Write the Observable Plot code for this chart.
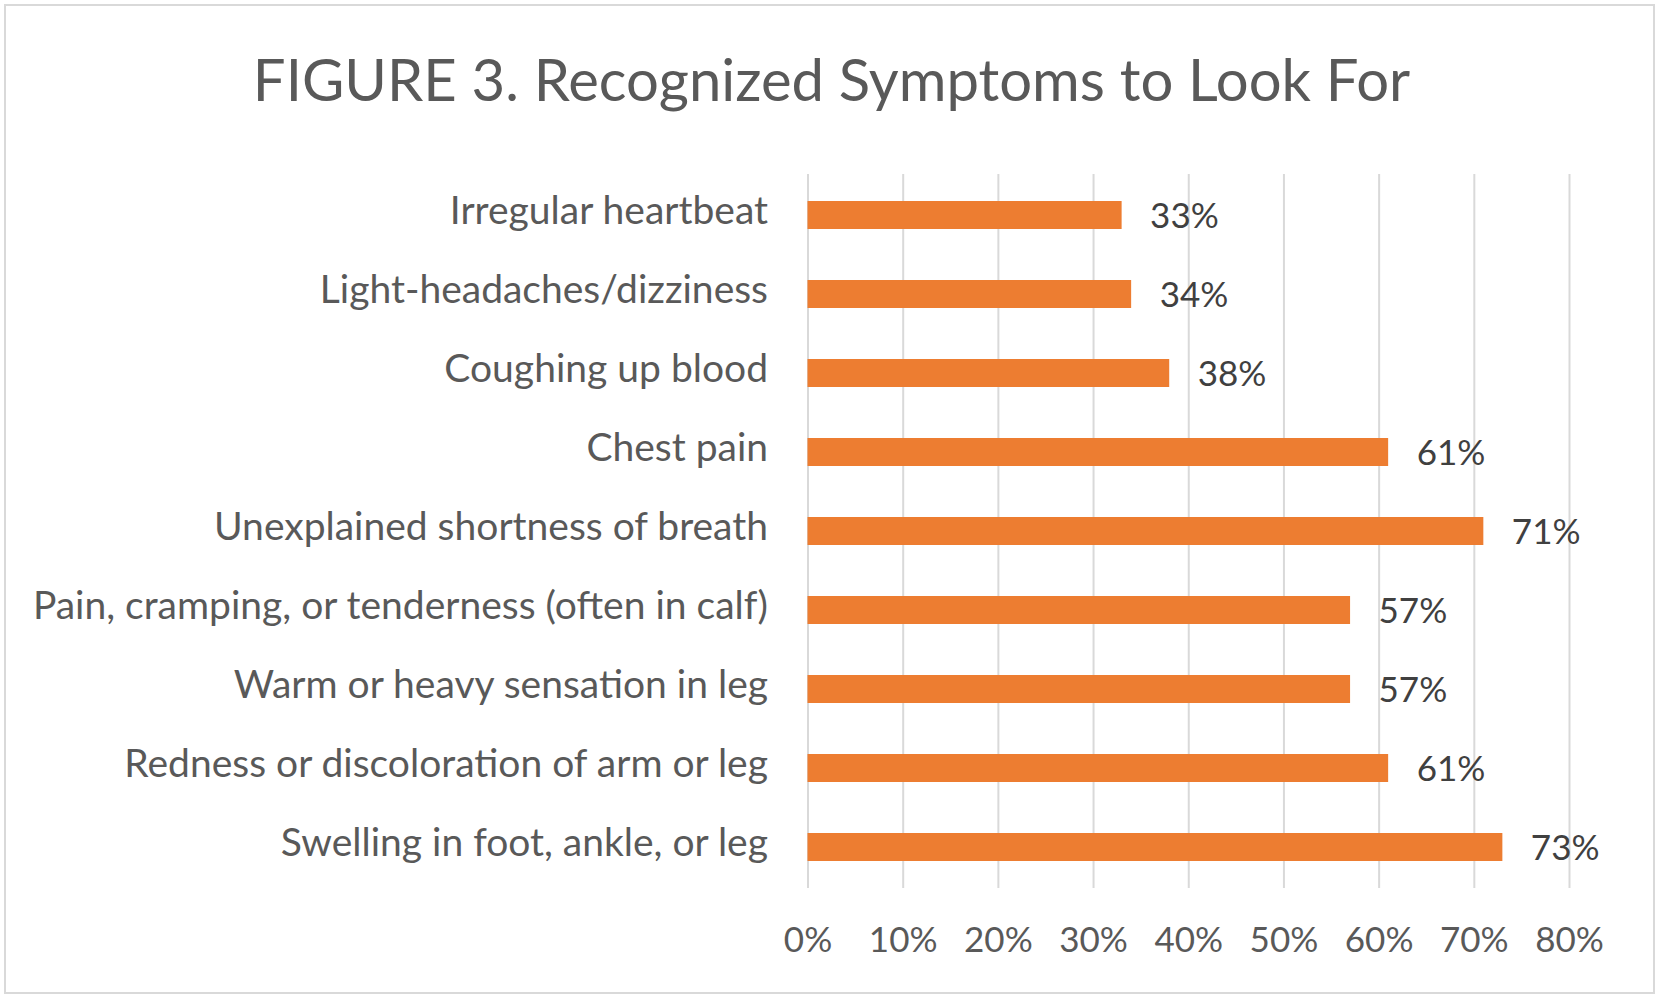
<!DOCTYPE html>
<html>
<head>
<meta charset="utf-8">
<script src="https://cdn.jsdelivr.net/npm/d3@7"></script>
<script src="https://cdn.jsdelivr.net/npm/@observablehq/plot@0.6"></script>
<style>
  html, body { margin: 0; padding: 0; background: #fff; }
  #wrap { position: relative; width: 1663px; height: 1003px; overflow: hidden; }
  #frame { position: absolute; left: 4px; top: 4px; width: 1651px; height: 990px;
           border: 2px solid #d9d9d9; box-sizing: border-box; }
  #title { position: absolute; left: 0; width: 1663px; top: 44px; text-align: center;
           font-family: Lato, sans-serif; font-size: 58px; line-height: 70px; color: #595959; }
  #chart { position: absolute; left: 0; top: 150px; }
</style>
</head>
<body>
<div id="wrap">
  <div id="frame"></div>
  <div id="title">FIGURE 3. Recognized Symptoms to Look For</div>
  <div id="chart"></div>
</div>
<script>
const categories = [
  "Irregular heartbeat",
  "Light-headaches/dizziness",
  "Coughing up blood",
  "Chest pain",
  "Unexplained shortness of breath",
  "Pain, cramping, or tenderness (often in calf)",
  "Warm or heavy sensation in leg",
  "Redness or discoloration of arm or leg",
  "Swelling in foot, ankle, or leg"
];
const values = [0.33, 0.34, 0.38, 0.61, 0.71, 0.57, 0.57, 0.61, 0.73];
const xTicks = [0, 0.1, 0.2, 0.3, 0.4, 0.5, 0.6, 0.7, 0.8];

const data = categories.map((c, i) => ({category: c, value: values[i]}));
const pct = d3.format(".0%");
const FS = 35;
const FS_CAT = 39;

const chart = Plot.plot({
  width: 1663,
  height: 830,
  marginLeft: 807.5,
  marginRight: 94,
  marginTop: 24,
  marginBottom: 92,
  style: {fontFamily: "Lato, sans-serif", background: "transparent"},
  x: {domain: [0, 0.8]},
  y: {domain: categories, paddingInner: 0.646, paddingOuter: 0.33},
  marks: [
    Plot.gridX(xTicks, {stroke: "#d9d9d9", strokeOpacity: 1, strokeWidth: 2}),
    Plot.barX(data, {x: "value", y: "category", fill: "#ED7D31"}),
    Plot.text(data, {x: "value", y: "category", text: d => pct(d.value), dx: 28, dy: 1,
      textAnchor: "start", fill: "#404040", fontSize: FS}),
    Plot.axisX(xTicks, {tickFormat: pct, tickSize: 0, tickPadding: 39, fontSize: FS,
      fill: "#595959", label: null}),
    Plot.axisY({tickSize: 0, tickPadding: 40, fontSize: FS_CAT, fill: "#595959", label: null, dy: -4})
  ]
});
document.getElementById("chart").appendChild(chart);
</script>
</body>
</html>
